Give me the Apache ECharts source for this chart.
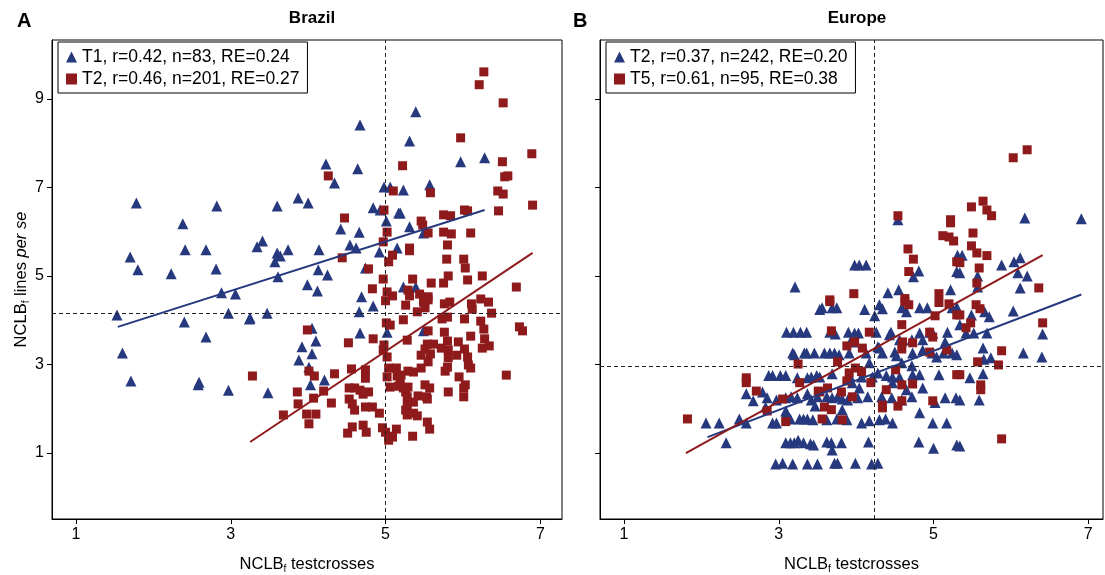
<!DOCTYPE html>
<html>
<head>
<meta charset="UTF-8">
<title>NCLB lines vs testcrosses</title>
<script src="https://cdn.jsdelivr.net/npm/echarts@6/dist/echarts.min.js"></script>
<style>
    html, body { margin: 0; padding: 0; background: #fff; }
    #main { width: 1105px; height: 575px; }
</style>
</head>
<body>
<div id="main"></div>
<script type="text/javascript">
    // Brazil: T1 (triangles), T2 (squares)
    var brazilT1 = [
        [1.78,6.65],[2.82,6.58],[2.38,6.18],[2.41,5.59],[2.68,5.59],[1.70,5.43],[1.80,5.14],[2.23,5.05],
        [2.81,5.16],[2.88,4.62],[3.06,4.59],[1.53,4.12],[2.40,3.96],[2.97,4.16],[3.24,4.03],[2.68,3.62],
        [1.60,3.26],[1.71,2.63],[2.59,2.60],[2.58,2.54],[2.97,2.42],[4.67,8.41],[4.23,7.53],[4.64,7.42],
        [4.34,7.10],[3.60,6.58],[3.87,6.76],[4.00,6.65],[4.84,6.54],[4.93,6.49],[4.98,7.01],[5.06,7.01],
        [5.01,6.24],[5.17,6.42],[4.42,6.06],[4.66,5.99],[3.41,5.79],[3.34,5.66],[3.74,5.59],[4.14,5.59],
        [4.54,5.70],[4.62,5.63],[5.15,5.63],[3.60,5.52],[3.64,5.45],[3.57,5.32],[4.92,5.54],[4.13,5.14],
        [4.25,5.02],[3.61,4.98],[4.74,5.18],[3.99,4.80],[4.12,4.66],[4.69,4.53],[4.84,4.32],[4.66,4.19],
        [3.25,4.05],[3.47,4.16],[4.05,3.82],[4.67,3.71],[5.02,3.73],[4.10,3.53],[3.92,3.40],[4.05,3.24],
        [3.88,3.10],[4.01,2.94],[4.21,2.65],[4.03,2.54],[3.48,2.36],[5.39,8.71],[5.31,8.05],[5.97,7.58],
        [6.28,7.67],[5.57,7.06],[5.23,6.94],[5.19,6.42],[5.31,6.11],[5.49,5.97],[5.23,4.75],[5.39,4.75],
        [5.49,3.76]
    ];
    var brazilT2 = [
        [4.26,7.26],[5.10,6.92],[4.98,6.49],[4.47,6.31],[5.02,5.99],[4.97,5.77],[5.22,7.49],
        [6.27,9.61],[6.21,9.32],[6.52,8.91],[5.97,8.12],[6.89,7.76],[6.51,7.58],[6.54,7.24],[6.58,7.26],
        [6.45,6.92],[6.52,6.85],[6.90,6.60],[6.46,6.47],[6.02,6.49],[6.06,6.47],[5.75,6.38],[5.84,6.36],
        [5.58,6.88],[5.46,6.24],[5.48,6.15],[5.55,5.97],[5.75,5.99],[5.85,5.95],[6.10,5.97],[5.80,5.70],
        [5.31,5.63],
        [4.44,5.41],[4.78,5.16],[4.97,4.93],[4.83,4.71],[5.02,4.64],[5.09,4.55],[5.00,4.44],[5.09,5.47],
        [5.04,5.32],[3.99,3.78],[5.01,3.94],[5.06,3.89],[4.84,3.58],[4.52,3.49],[4.98,3.44],[4.97,3.33],
        [5.02,3.17],[4.56,2.90],[4.74,2.88],[4.01,2.85],[4.08,2.74],[4.34,2.79],[3.28,2.74],[4.74,2.69],
        [5.04,2.92],[5.14,2.92],[5.02,2.72],[5.15,2.74],[4.53,2.47],[4.60,2.47],[4.67,2.42],[4.78,2.38],
        [4.71,2.33],[4.20,2.40],[3.86,2.38],[4.07,2.24],[5.06,2.49],[5.17,2.51],[4.53,2.22],[4.57,2.11],
        [4.30,2.13],[3.87,2.11],[4.60,1.97],[4.74,2.04],[4.83,2.04],[4.92,1.90],[3.98,1.88],[4.10,1.88],
        [3.68,1.86],[4.01,1.66],[4.57,1.59],[4.71,1.63],[4.75,1.47],[4.51,1.45],[4.96,1.57],[5.00,1.47],
        [5.14,1.54],[5.04,1.38],[5.09,1.36],[5.04,1.29],
        [5.31,5.57],[5.79,5.38],[6.01,5.38],[6.03,5.18],[5.35,4.93],[5.59,4.84],[5.75,4.84],[5.81,5.00],
        [6.06,4.91],[6.25,5.00],[6.69,4.75],[5.29,4.68],[5.31,4.55],[5.44,4.59],[5.55,4.53],[5.55,4.46],
        [5.49,4.41],[5.26,4.34],[5.51,4.28],[5.76,4.37],[5.83,4.41],[6.23,4.48],[6.33,4.41],[6.11,4.37],
        [6.12,4.25],[5.41,4.19],[6.37,4.16],[5.23,4.01],[5.73,4.03],[5.80,4.07],[6.02,4.03],[6.23,3.98],
        [6.27,3.80],[5.55,3.76],[5.76,3.73],[6.73,3.85],[6.77,3.76],[5.28,3.55],[6.10,3.64],[5.80,3.53],
        [5.94,3.51],[6.28,3.58],[6.25,3.37],[6.34,3.42],[5.54,3.46],[5.62,3.46],[5.51,3.35],[5.72,3.37],
        [5.81,3.33],[6.02,3.35],[5.46,3.21],[5.58,3.24],[5.81,3.15],[5.92,3.21],[6.06,3.17],[5.55,3.06],
        [6.07,2.99],[6.10,2.92],[5.80,2.94],[5.77,2.85],[5.46,2.92],[5.29,2.85],[5.36,2.83],[5.20,2.76],
        [6.56,2.76],[5.95,2.72],[6.03,2.54],[6.01,2.47],[5.51,2.54],[5.57,2.47],[5.19,2.60],[5.23,2.47],
        [5.29,2.49],[5.26,2.38],[5.81,2.38],[6.01,2.27],[5.28,2.27],[5.42,2.29],[5.53,2.27],[5.54,2.22],
        [5.36,2.15],[5.28,2.08],[5.26,1.97],[5.28,1.86],[5.36,1.90],[5.41,1.84],[5.54,1.70],[5.57,1.54],
        [5.35,1.38]
    ];
    // Europe: T2 (triangles), T5 (squares)
    var europeT2 = [
        [3.53,4.24],[3.10,3.73],[3.19,3.73],[3.28,3.73],[3.36,3.73],[3.18,3.26],[3.20,3.22],[3.33,3.26],
        [3.36,3.26],[3.46,3.26],[2.87,2.75],[2.92,2.75],[3.02,2.75],[3.09,2.75],[3.24,2.70],[3.37,2.70],
        [3.42,2.72],[3.49,2.75],[2.58,2.34],[2.67,2.18],[2.79,2.38],[2.85,2.25],[2.97,2.20],[3.09,2.25],
        [3.16,2.27],[3.24,2.25],[3.37,2.34],[3.42,2.20],[3.47,2.06],[3.50,2.27],[2.83,2.04],[3.09,1.95],
        [3.10,1.91],[2.49,1.77],[2.58,1.68],[2.06,1.68],[2.23,1.68],[2.92,1.68],[2.97,1.68],[3.15,1.77],
        [3.27,1.77],[3.32,1.77],[3.37,1.77],[3.44,1.75],[2.32,1.23],[3.09,1.23],[3.15,1.23],[3.20,1.23],
        [3.25,1.29],[3.32,1.23],[3.41,1.21],[3.45,1.18],[2.96,0.75],[3.05,0.77],[3.18,0.75],[3.37,0.75],
        [3.50,0.75],
        [3.56,4.28],[3.69,4.28],[3.75,4.28],[4.11,4.24],[4.30,4.35],[4.34,4.26],[4.59,4.28],[4.65,4.19],
        [4.82,4.28],[4.92,4.28],[5.24,4.28],[5.30,4.30],[4.24,4.10],
        [3.66,3.73],[3.73,3.69],[3.90,3.73],[3.98,3.71],[4.03,3.71],[4.26,3.73],[4.45,3.73],[4.43,3.67],
        [4.82,3.71],[4.99,3.71],[5.18,3.73],[4.95,3.73],[3.99,3.51],[3.95,3.60],[4.28,3.40],[4.56,3.56],
        [4.72,3.56],[4.86,3.56],[5.15,3.51],
        [3.59,3.26],[3.66,3.26],[3.72,3.26],[3.78,3.22],[3.91,3.26],[4.13,3.26],[4.30,3.37],[4.34,3.26],
        [4.50,3.28],[4.52,3.20],[4.73,3.26],[4.86,3.33],[4.98,3.26],[5.04,3.17],[5.13,3.26],[5.24,3.26],
        [5.30,3.22],
        [3.53,2.72],[3.69,2.79],[3.91,2.77],[4.07,2.72],[4.17,3.04],[4.21,2.72],[4.28,2.81],[4.39,2.75],
        [4.47,2.72],[4.56,2.72],[4.72,2.97],[4.73,2.77],[4.82,2.77],[5.07,2.77],[4.59,3.04],
        [3.62,2.27],[3.69,2.25],[3.76,2.27],[3.82,2.22],[3.89,2.20],[4.02,2.25],[4.15,2.27],[4.33,2.27],
        [4.46,2.25],[4.59,2.20],[4.72,2.27],[4.86,2.47],[5.02,2.14],[5.15,2.25],[5.29,2.25],[4.47,2.59],
        [4.65,2.43],[4.04,2.47],[3.95,2.59],[3.82,1.98],
        [3.62,1.75],[3.75,1.77],[3.88,1.75],[4.07,1.68],[4.17,1.73],[4.30,1.75],[4.38,1.77],[4.47,1.68],
        [4.82,1.91],[4.99,1.68],[5.17,1.68],
        [3.62,1.25],[3.68,1.23],[3.81,1.23],[3.69,1.07],[4.16,1.25],[4.81,1.25],[5.00,1.11],[5.30,1.18],
        [3.72,0.77],[3.76,0.77],[3.99,0.77],[4.20,0.75],[4.28,0.77],
        [5.49,4.12],[5.66,4.19],[5.72,4.08],[6.03,4.21],[5.34,3.90],[5.42,3.71],[5.52,3.71],[5.69,3.71],
        [6.41,3.69],[5.64,3.37],[5.65,3.12],[5.74,3.15],[6.16,3.26],[6.40,3.17],[5.47,2.70],[5.64,2.79],
        [5.34,2.20],[5.59,2.20],[5.34,1.16],
        [3.21,4.75],[4.54,6.27],[3.98,5.25],[4.04,5.25],[4.13,5.25],[4.81,5.11],[4.74,4.98],[5.31,5.47],
        [5.30,5.10],[4.41,4.62],[4.55,4.69],[5.22,4.69],[6.18,6.31],[6.91,6.29],[5.37,5.47],[5.88,5.25],
        [6.04,5.32],[6.12,5.41],[6.09,5.07],[6.21,5.00],[5.57,5.00],[5.57,4.75],[6.12,4.73],[5.34,5.07]
    ];
    var europeT5 = [
        [1.82,1.77],[2.58,2.70],[2.58,2.59],[2.71,2.40],[2.85,1.95],[3.05,2.22],[3.09,1.71],[3.27,2.59],
        [3.25,3.01],[3.51,2.40],
        [3.66,4.42],[4.63,4.42],[4.68,4.35],[5.07,4.40],[5.20,4.37],[5.02,4.10],[5.30,4.12],[3.68,3.76],
        [4.17,3.73],[4.95,3.73],[4.99,3.62],[4.59,3.90],[4.60,3.51],[4.59,3.35],[4.73,3.49],[3.88,3.42],
        [3.98,3.51],[4.08,3.37],[3.76,3.06],[4.95,3.28],[5.17,3.33],[3.99,2.92],[4.07,2.84],[3.91,2.81],
        [4.51,2.88],[5.30,2.77],[3.88,2.63],[4.19,2.59],[4.59,2.54],[4.73,2.56],[4.39,2.43],[3.63,2.47],
        [3.53,2.38],[3.81,2.38],[3.95,2.27],[3.59,2.04],[3.68,1.98],[4.34,2.08],[4.34,2.02],[4.54,2.06],
        [4.59,2.18],[4.99,2.18],[3.56,1.77],[3.82,1.75],
        [5.55,4.35],[5.60,4.26],[5.34,4.12],[5.48,3.94],[5.42,3.83],[6.41,3.94],[5.88,3.31],[5.57,3.06],
        [5.84,2.99],[5.34,2.77],[5.61,2.54],[5.61,2.43],[5.88,1.32],
        [4.54,6.36],[5.22,6.27],[5.22,6.20],[5.12,5.91],[5.20,5.88],[5.26,5.79],[4.67,5.61],[4.74,5.38],
        [4.68,5.10],[5.30,5.32],[3.97,4.60],[3.66,4.46],[5.07,4.60],[4.63,4.49],
        [6.21,7.85],[6.03,7.67],[5.64,6.69],[5.49,6.56],[5.69,6.49],[5.75,6.36],[5.51,5.97],[5.49,5.68],
        [5.56,5.52],[5.69,5.46],[5.34,5.30],[5.59,5.18],[5.56,4.84],[6.36,4.73]
    ];

    // fitted lines (end points) and dashed reference lines
    var brazilFitT1 = [[1.54,3.85],[6.28,6.49]];
    var brazilFitT2 = [[3.25,1.25],[6.90,5.52]];
    var europeFitT2 = [[2.08,1.36],[6.91,4.58]];
    var europeFitT5 = [[1.80,1.00],[6.41,5.47]];
    var brazilRef = {x: 5.0, y: 4.15};
    var europeRef = {x: 4.24, y: 2.97};

    var names = {
        bT1: 'T1, r=0.42, n=83, RE=0.24',
        bT2: 'T2, r=0.46, n=201, RE=0.27',
        eT2: 'T2, r=0.37, n=242, RE=0.20',
        eT5: 'T5, r=0.61, n=95, RE=0.38'
    };
    var tickVals = [1, 3, 5, 7];
    var yTickVals = [1, 3, 5, 7, 9];

    var BLUE = '#27397e';
    var RED = '#8e1a1c';
    var FONT = 'Liberation Sans, Arial, sans-serif';

    var myChart = echarts.init(document.getElementById('main'));

    function xAx(idx) {
        return {
            type: 'value', gridIndex: idx, min: 0.69, max: idx === 0 ? 7.28 : 7.19,
            splitLine: {show: false},
            axisLine: {onZero: false, lineStyle: {color: '#000', width: 1}},
            axisTick: {customValues: tickVals, length: 5, lineStyle: {color: '#000'}},
            axisLabel: {customValues: tickVals, color: '#000', fontSize: 16, fontFamily: FONT, margin: 8},
            name: '{a|NCLB}{s|f}{a| testcrosses}',
            nameLocation: 'middle', nameGap: 36,
            nameTextStyle: {
                rich: {
                    a: {fontSize: 16.5, fontFamily: FONT, color: '#000'},
                    s: {fontSize: 10, fontFamily: FONT, color: '#000', padding: [9, 0, 0, 0]}
                }
            }
        };
    }
    function yAx(idx) {
        var ax = {
            type: 'value', gridIndex: idx, min: -0.49, max: 10.33,
            splitLine: {show: false},
            axisLine: {onZero: false, lineStyle: {color: '#000', width: 1}},
            axisTick: {customValues: yTickVals, length: 5, lineStyle: {color: '#000'}},
            axisLabel: {customValues: yTickVals, show: idx === 0, color: '#000', fontSize: 16, fontFamily: FONT, margin: 8}
        };
        if (idx === 0) {
            ax.name = '{a|NCLB}{s|f}{a| lines }{i|per se}';
            ax.nameLocation = 'middle';
            ax.nameRotate = 90;
            ax.nameGap = 21;
            ax.nameTextStyle = {
                rich: {
                    a: {fontSize: 16.5, fontFamily: FONT, color: '#000'},
                    i: {fontSize: 16.5, fontFamily: FONT, color: '#000', fontStyle: 'italic'},
                    s: {fontSize: 10, fontFamily: FONT, color: '#000', padding: [9, 0, 0, 0]}
                }
            };
        }
        return ax;
    }

    function refLines(ref) {
        return {
            silent: true, symbol: 'none', label: {show: false},
            lineStyle: {color: '#222', type: [4, 3], width: 1},
            data: [{xAxis: ref.x}, {yAxis: ref.y}]
        };
    }
    function scatter(name, idx, data, shape, size, color, ml) {
        var s = {
            name: name, type: 'scatter', xAxisIndex: idx, yAxisIndex: idx,
            symbol: shape, symbolSize: size, data: data,
            itemStyle: {color: color, opacity: 1}
        };
        if (ml) s.markLine = ml;
        return s;
    }
    function fit(idx, data, color) {
        return {
            type: 'line', xAxisIndex: idx, yAxisIndex: idx, data: data,
            symbol: 'none', silent: true, lineStyle: {color: color, width: 2}, z: 5
        };
    }
    function legend(left, data) {
        return {
            left: left, top: 42, orient: 'vertical', data: data,
            borderColor: '#000', borderWidth: 1, padding: [6, 8, 5, 8], itemGap: 4,
            itemWidth: 11, itemHeight: 11,
            textStyle: {fontSize: 17.5, fontFamily: FONT, color: '#000'}
        };
    }

    var option = {
        backgroundColor: '#fff',
        animation: false,
        title: [
            {text: 'Brazil', left: 307, top: 5, textAlign: 'center', textStyle: {fontSize: 17, fontWeight: 'bold', fontFamily: FONT, color: '#000'}},
            {text: 'Europe', left: 852, top: 5, textAlign: 'center', textStyle: {fontSize: 17, fontWeight: 'bold', fontFamily: FONT, color: '#000'}},
            {text: 'A', left: 12, top: 6, textStyle: {fontSize: 20, fontWeight: 'bold', fontFamily: FONT, color: '#000'}},
            {text: 'B', left: 568, top: 6, textStyle: {fontSize: 20, fontWeight: 'bold', fontFamily: FONT, color: '#000'}}
        ],
        legend: [
            legend(58, [{name: names.bT1, icon: 'triangle'}, {name: names.bT2, icon: 'rect'}]),
            legend(606, [{name: names.eT2, icon: 'triangle'}, {name: names.eT5, icon: 'rect'}])
        ],
        grid: [
            {left: 52, top: 40, width: 510, height: 479, outerBoundsMode: 'none', containLabel: false,
             show: true, borderColor: '#000', borderWidth: 1},
            {left: 600, top: 40, width: 503, height: 479, outerBoundsMode: 'none', containLabel: false,
             show: true, borderColor: '#000', borderWidth: 1}
        ],
        xAxis: [xAx(0), xAx(1)],
        yAxis: [yAx(0), yAx(1)],
        series: [
            scatter(names.bT1, 0, brazilT1, 'triangle', 11, BLUE, refLines(brazilRef)),
            scatter(names.bT2, 0, brazilT2, 'rect', 9, RED),
            fit(0, brazilFitT1, BLUE),
            fit(0, brazilFitT2, RED),
            scatter(names.eT2, 1, europeT2, 'triangle', 11, BLUE, refLines(europeRef)),
            scatter(names.eT5, 1, europeT5, 'rect', 9, RED),
            fit(1, europeFitT2, BLUE),
            fit(1, europeFitT5, RED)
        ]
    };
    myChart.setOption(option);
</script>
</body>
</html>
